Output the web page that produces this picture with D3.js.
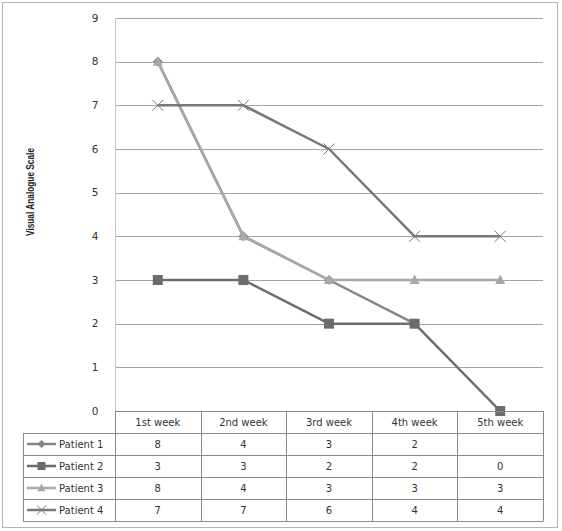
<!DOCTYPE html>
<html>
<head>
<meta charset="utf-8">
<script src="https://cdn.jsdelivr.net/npm/d3@7"></script>
<style>
  body { margin: 0; background: #fff; }
  svg text { font-family: "DejaVu Sans", Verdana, sans-serif; }
</style>
</head>
<body>
<svg id="chart" width="562" height="531"></svg>
<script>
// data
const weeks = ["1st week", "2nd week", "3rd week", "4th week", "5th week"];
const patientNames = ["Patient 1", "Patient 2", "Patient 3", "Patient 4"];
const patient1 = [8, 4, 3, 2, null];
const patient2 = [3, 3, 2, 2, 0];
const patient3 = [8, 4, 3, 3, 3];
const patient4 = [7, 7, 6, 4, 4];
const yTicks = [0, 1, 2, 3, 4, 5, 6, 7, 8, 9];

const series = [
  { name: patientNames[0], values: patient1, color: "#858585", marker: "diamond" },
  { name: patientNames[1], values: patient2, color: "#6c6c6c", marker: "square" },
  { name: patientNames[2], values: patient3, color: "#a8a8a8", marker: "triangle" },
  { name: patientNames[3], values: patient4, color: "#777777", marker: "cross" }
];

const svg = d3.select("#chart");

// outer frame
svg.append("rect")
  .attr("x", 2.5).attr("y", 2.5)
  .attr("width", 555).attr("height", 525)
  .attr("fill", "#fff")
  .attr("stroke", "#b4b4b4");

const plotLeft = 115, plotRight = 543, plotTop = 18, plotBottom = 411;
const x = d3.scaleBand().domain(weeks).range([plotLeft, plotRight]);
const y = d3.scaleLinear().domain([0, 9]).range([plotBottom, plotTop]);
const cx = w => x(w) + x.bandwidth() / 2;

// gridlines
svg.append("g")
  .selectAll("line")
  .data(yTicks.filter(t => t > 0))
  .join("line")
  .attr("x1", plotLeft).attr("x2", plotRight)
  .attr("y1", d => Math.round(y(d)) + 0.5)
  .attr("y2", d => Math.round(y(d)) + 0.5)
  .attr("stroke", "#a4a4a4");

// y axis line
svg.append("line")
  .attr("x1", plotLeft + 0.5).attr("x2", plotLeft + 0.5)
  .attr("y1", plotTop).attr("y2", plotBottom)
  .attr("stroke", "#c4c4c4");

// y tick labels
svg.append("g")
  .selectAll("text")
  .data(yTicks)
  .join("text")
  .attr("x", 95)
  .attr("y", d => y(d))
  .attr("dy", "0.35em")
  .attr("text-anchor", "middle")
  .attr("font-size", 10.5)
  .attr("fill", "#333")
  .text(d => d);

// y axis title - squeezed to the narrow width of the original
svg.append("text")
  .attr("transform", "translate(34,192) rotate(-90)")
  .attr("x", -44)
  .attr("textLength", 88)
  .attr("lengthAdjust", "spacingAndGlyphs")
  .attr("font-size", 10.5)
  .attr("font-weight", "bold")
  .attr("fill", "#222")
  .style("font-family", "'Liberation Sans', Arial, sans-serif")
  .text("Visual Analogue Scale");

// markers
function drawMarker(g, type, mx, my, color, s) {
  if (type === "diamond") {
    g.append("path")
      .attr("d", `M${mx},${my - s}L${mx + s},${my}L${mx},${my + s}L${mx - s},${my}Z`)
      .attr("fill", color);
  } else if (type === "square") {
    g.append("rect")
      .attr("x", mx - s).attr("y", my - s)
      .attr("width", 2 * s).attr("height", 2 * s)
      .attr("fill", color);
  } else if (type === "triangle") {
    g.append("path")
      .attr("d", `M${mx},${my - s * 1.1}L${mx + s},${my + s * 0.8}L${mx - s},${my + s * 0.8}Z`)
      .attr("fill", color);
  } else if (type === "cross") {
    g.append("path")
      .attr("d", `M${mx - s},${my - s}L${mx + s},${my + s}M${mx - s},${my + s}L${mx + s},${my - s}`)
      .attr("stroke", color)
      .attr("stroke-width", 1);
  }
}

const line = d3.line()
  .defined(d => d != null)
  .x((d, i) => cx(weeks[i]))
  .y(d => y(d));

const plot = svg.append("g");
series.forEach(s => {
  plot.append("path")
    .datum(s.values)
    .attr("d", line)
    .attr("fill", "none")
    .attr("stroke", s.color)
    .attr("stroke-width", 2.5)
    .attr("stroke-linejoin", "round");
  s.values.forEach((v, i) => {
    if (v == null) return;
    drawMarker(plot, s.marker, cx(weeks[i]), y(v), s.color, s.marker === "cross" ? 5.5 : 5);
  });
});

// data table
const tableLeft = 23, rowH = 22, headTop = plotBottom;
const tableBottom = headTop + rowH * 5;
const tbl = svg.append("g");

// header labels
tbl.selectAll("text.head")
  .data(weeks)
  .join("text")
  .attr("class", "head")
  .attr("x", d => cx(d))
  .attr("y", headTop + rowH / 2)
  .attr("dy", "0.35em")
  .attr("text-anchor", "middle")
  .attr("font-size", 10)
  .attr("fill", "#333")
  .text(d => d);

// body rows
series.forEach((s, r) => {
  const rowTop = headTop + rowH * (r + 1);
  const ry = rowTop + rowH / 2;
  tbl.append("line")
    .attr("x1", 27).attr("x2", 56)
    .attr("y1", ry).attr("y2", ry)
    .attr("stroke", s.color).attr("stroke-width", 2.5);
  drawMarker(tbl, s.marker, 41.5, ry, s.color, s.marker === "cross" ? 4.5 : 4);
  tbl.append("text")
    .attr("x", 59).attr("y", ry).attr("dy", "0.35em")
    .attr("font-size", 10).attr("fill", "#333")
    .text(s.name);
  s.values.forEach((v, i) => {
    if (v == null) return;
    tbl.append("text")
      .attr("x", cx(weeks[i]))
      .attr("y", ry).attr("dy", "0.35em")
      .attr("text-anchor", "middle")
      .attr("font-size", 10).attr("fill", "#333")
      .text(v);
  });
});

// table grid
const gridColor = "#8a8a8a";
d3.range(0, 6).forEach(r => {
  const yy = headTop + rowH * r + 0.5;
  tbl.append("line")
    .attr("x1", r === 0 ? plotLeft : tableLeft).attr("x2", plotRight)
    .attr("y1", yy).attr("y2", yy)
    .attr("stroke", gridColor);
});
[plotLeft, ...weeks.map(w => x(w) + x.bandwidth())].forEach(xx => {
  tbl.append("line")
    .attr("x1", Math.round(xx) + 0.5).attr("x2", Math.round(xx) + 0.5)
    .attr("y1", headTop).attr("y2", tableBottom + 0.5)
    .attr("stroke", gridColor);
});
tbl.append("line")
  .attr("x1", tableLeft + 0.5).attr("x2", tableLeft + 0.5)
  .attr("y1", headTop + rowH).attr("y2", tableBottom + 0.5)
  .attr("stroke", gridColor);
</script>
</body>
</html>
